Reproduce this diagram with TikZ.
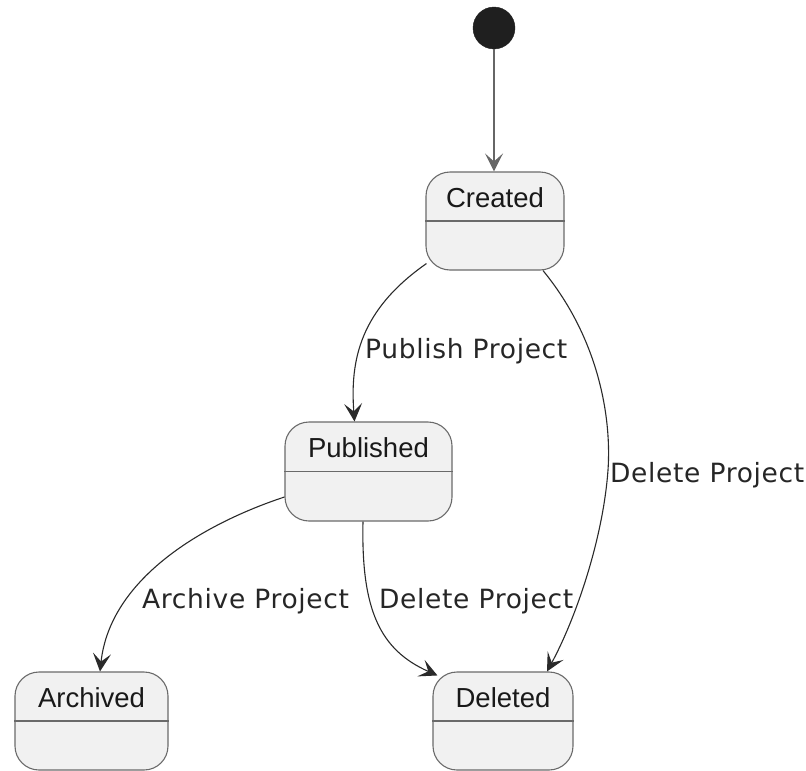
\documentclass[tikz,border=0pt]{standalone}
\usepackage{fontspec}
\setmainfont{Liberation Sans}
\newfontfamily\lblfont[LetterSpace=2.5]{DejaVu Sans}
\usetikzlibrary{calc,arrows.meta}
\definecolor{boxfill}{HTML}{F1F1F1}
\definecolor{boxline}{HTML}{6A6A6A}
\definecolor{edgecol}{HTML}{2A2A2A}
\tikzset{
  statebox/.style={draw=boxline, fill=boxfill, line width=1.1pt, rounded corners=24pt, inner sep=0pt},
  statename/.style={font=\fontsize{27.5}{33}\selectfont, text=black!90, inner sep=0pt},
  divider/.style={draw=boxline, line width=1.6pt},
  trans/.style={draw=edgecol, line width=1.1pt, -{Stealth[length=18pt,width=18pt,inset=8pt]}},
  translabel/.style={font=\lblfont\fontsize{26.5}{32}\selectfont, text=black!85, inner sep=0pt, anchor=base west},
  initstate/.style={circle, fill=black!88, draw=black!88, minimum size=42pt, inner sep=0pt}
}
\begin{document}
\begin{tikzpicture}[x=1pt,y=-1pt]
\useasboundingbox (0,0) rectangle (806,771);

% nodes
\node[initstate] (init) at (494,28) {};
\node[statebox, minimum width=138pt, minimum height=98pt] (created) at (495,221) {};
\node[statebox, minimum width=167pt, minimum height=99pt] (published) at (368.5,471.5) {};
\node[statebox, minimum width=153pt, minimum height=98pt] (archived) at (91.5,721) {};
\node[statebox, minimum width=140pt, minimum height=98pt] (deleted) at (503,721) {};

\foreach \n in {created,published,archived,deleted}{
  \draw[divider] (\n.west) -- (\n.east);
}

\node[statename] (createdtxt) at ($(created.north)+(0,26)$) {Created};
\node[statename] (publishedtxt) at ($(published.north)+(0,26)$) {Published};
\node[statename] (archivedtxt) at ($(archived.north)+(0,26)$) {Archived};
\node[statename] (deletedtxt) at ($(deleted.north)+(0,26)$) {Deleted};

% connectors
\draw[trans, draw=black!60, line width=1.6pt] (init.south) -- (init.south |- created.north);

\draw[trans] ($(created.south west)+(1,-7)$) .. controls (360,310) and (350,360) .. ($(published.north)+(-14,0)$);

\draw[trans] ($(created.south)+(48,0)$) .. controls (600,340) and (611.5,420) .. (608,470)
   .. controls (603,540) and (575,620) .. ($(deleted.north)+(44,0)$);

\draw[trans] ($(published.west)+(0,25.5)$) .. controls (200,525) and (110,580) .. ($(archived.north)+(8.5,0)$);

\draw[trans] ($(published.south)+(-5.5,0)$) .. controls (361,610) and (380,650) .. ($(deleted.north west)+(5,4)$);

% labels
\node[translabel] (lblpub) at (365,358) {Publish Project};
\node[translabel] (lbldel1) at (610,482) {Delete Project};
\node[translabel] (lblarch) at (142,608) {Archive Project};
\node[translabel] (lbldel2) at (379,608) {Delete Project};
\end{tikzpicture}
\end{document}
